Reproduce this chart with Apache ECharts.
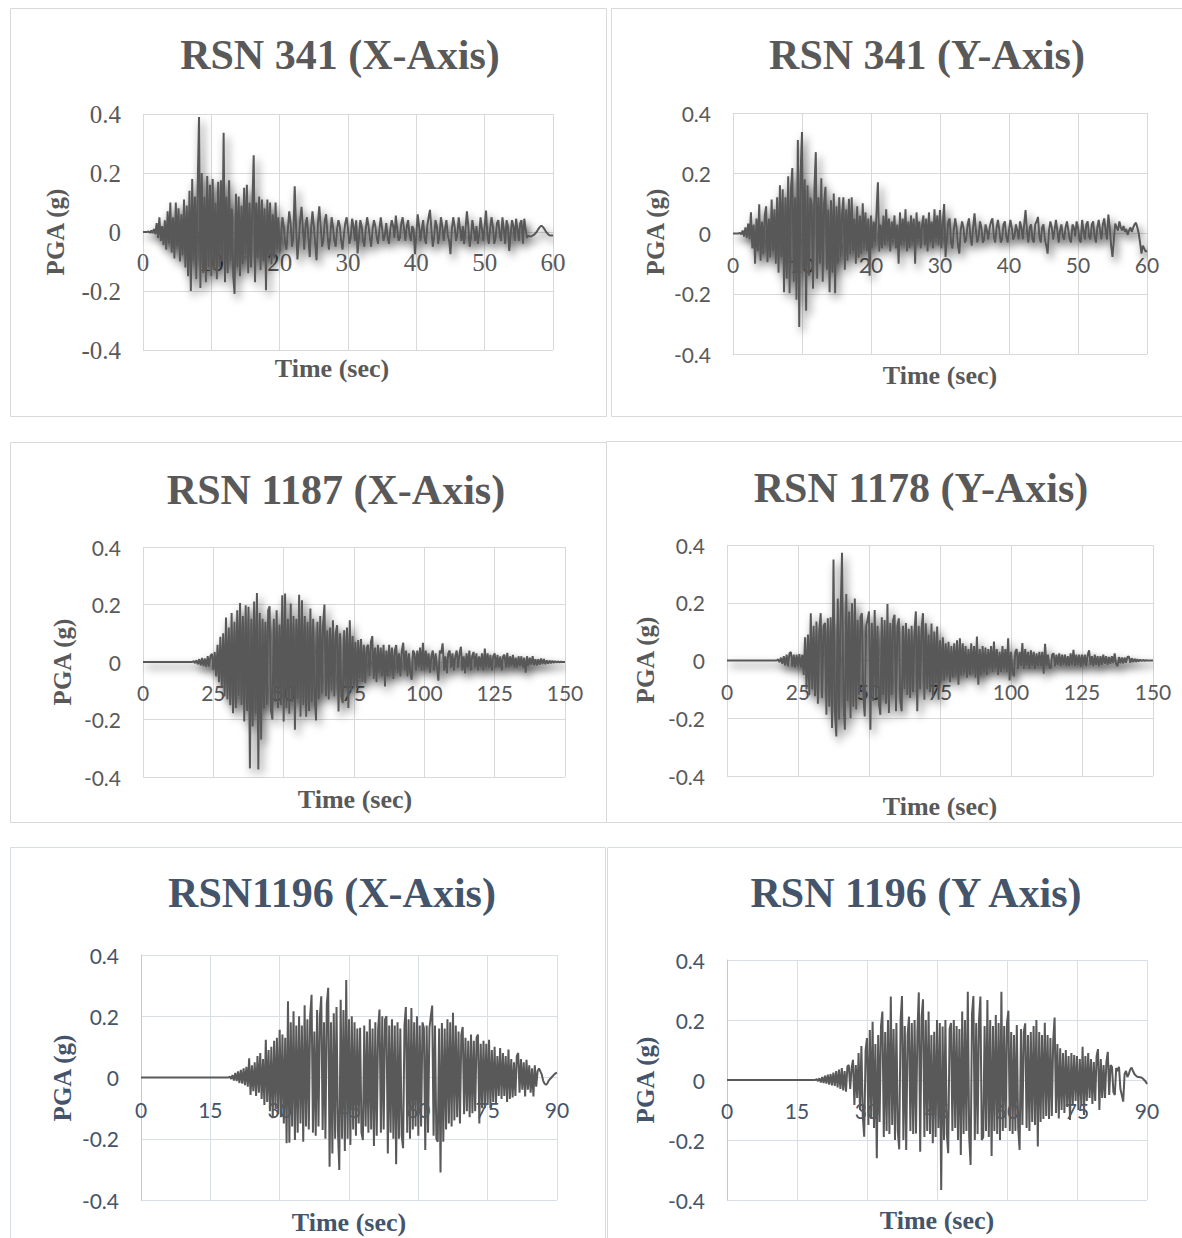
<!DOCTYPE html>
<html>
<head>
<meta charset="utf-8">
<title>Ground motion records</title>
<script src="https://cdn.jsdelivr.net/npm/echarts@6/dist/echarts.min.js"></script>
<style>
  html, body { margin: 0; padding: 0; background: #ffffff; }
  #chart { width: 1182px; height: 1238px; }
</style>
</head>
<body>
<div id="chart"></div>
<script>
// Acceleration histories (g), one value every DT seconds from t = 0
const DT_341 = 0.2;
const DT_1187 = 0.5;
const DT_1178 = 0.5;
const DT_1196 = 0.3;

const rsn341X = [
  0,0,0,0,.002,-.003,.005,-.004,.01,-.008,
  .03,-.02,.05,-.03,.02,-.045,.04,-.06,.07,-.04,
  .1,-.07,.05,-.09,.1,-.05,.08,-.1,.06,-.08,
  .11,-.12,.09,-.15,.14,-.2,.18,-.1,.12,-.16,
  .15,.39,-.19,.2,-.14,.12,-.17,.19,-.12,.16,
  -.15,.18,-.13,.1,-.16,.17,-.12,.175,-.1,.336,
  -.17,.12,-.14,.175,-.1,.08,-.15,-.21,.13,-.12,
  .12,-.15,.09,-.11,.15,-.08,.16,-.14,.1,-.12,
  .09,.26,-.17,.1,-.09,.12,-.13,.11,-.1,.08,
  -.197,.11,-.08,.1,-.11,.06,-.09,.1,-.06,.05,
  -.07,-.02,.05,.02,-.04,-.06,.01,.07,.03,-.05,
  -.02,.155,.02,-.093,-.03,.04,.085,.01,-.06,.03,
  .05,-.02,-.085,.01,.07,.02,-.04,-.096,.03,.087,
  .02,-.05,-.03,.04,.06,-.01,-.06,-.02,.05,.02,
  -.03,-.05,.01,.04,.02,-.03,-.06,-.01,.03,.05,
  .01,-.04,-.02,.045,.02,-.03,.04,-.073,-.02,.04,
  .02,-.03,-.05,.01,.05,.02,-.02,-.05,.01,.04,
  .02,-.02,-.04,.01,.05,.01,-.03,-.01,.03,-.02,
  -.04,.01,.04,.02,-.02,.056,.01,-.03,-.02,.03,
  .05,.01,-.03,.02,.04,-.01,-.03,.02,.01,-.075,
  -.01,.06,.02,-.03,.01,.04,-.02,-.04,.02,.05,
  .075,.01,-.05,-.02,.04,.02,-.04,-.01,.05,.02,
  -.03,.01,.04,-.01,-.03,-.075,.01,.05,.02,-.03,
  -.01,.05,.01,-.03,.02,-.04,.01,.07,.02,-.05,
  -.02,.04,.01,-.03,.02,-.04,-.01,.05,.01,-.03,
  .02,.073,-.01,-.04,.01,.05,.02,-.04,-.02,.03,
  .04,-.01,-.03,.05,.01,-.04,.04,.02,-.064,-.01,
  .04,.02,-.03,.045,.01,-.03,.03,.04,-.04,.045,
  .01,-.02,-.012,-.015,-.015,-.012,-.01,-.005,0,.008,
  .015,.02,.02,.015,.008,0,-.005,-.01,-.012,-.012,-.012
];

const rsn341Y = [
  0,0,0,0,0,.002,-.003,.01,-.01,.02,
  -.015,.033,-.02,.07,-.05,.03,-.1,.05,-.06,.097,
  -.09,.04,-.07,.06,.09,-.095,.05,-.08,.113,-.06,
  .08,-.1,.12,-.13,.16,-.08,.147,-.195,.12,-.15,
  .19,-.198,.15,.217,-.16,.12,-.22,.31,-.31,.2,
  .337,-.12,.18,-.256,.16,-.14,.12,.1,-.183,.15,
  .27,-.15,.12,-.1,.183,-.16,.1,.155,-.12,.08,
  -.195,.11,-.13,.133,-.198,.09,-.1,.12,-.08,.06,
  .12,-.12,.08,-.09,.115,-.07,.12,-.06,.05,-.1,
  .09,-.08,.06,-.07,.1,-.04,.07,-.06,.05,-.14,
  .06,-.05,.04,-.03,.07,.17,-.06,.03,-.05,.06,
  -.04,.08,-.03,.05,-.06,.04,-.02,.06,-.05,.03,
  -.1,.07,-.04,.05,-.03,.08,-.06,.04,-.05,.06,
  -.03,.05,-.1,.07,-.02,.04,-.05,.03,.06,-.04,
  .05,-.06,.07,-.03,.04,-.05,.08,-.02,.06,-.04,
  .078,-.05,.03,.098,-.078,-.02,.04,.05,-.03,-.05,
  .01,.05,.02,-.04,-.067,.01,.04,.02,-.03,-.02,
  .03,.05,-.01,-.04,.02,.067,.01,-.03,-.01,.04,
  .02,-.03,-.02,.03,.01,-.02,.02,.04,.05,-.01,
  -.03,.02,.045,.01,-.03,-.02,.03,.04,-.01,-.03,
  .01,.045,.02,-.02,-.01,.03,.01,-.02,.04,.02,
  -.02,.03,.078,.01,-.03,.02,.03,-.02,-.03,.03,
  .04,.055,-.01,-.03,.02,.03,-.02,-.04,-.067,.01,
  .04,.02,-.02,.01,.045,.01,-.03,.01,.03,-.01,
  -.02,.02,.04,.01,-.02,-.03,.03,.02,-.01,.04,
  .02,-.02,-.03,.045,.01,-.02,.03,.04,-.01,-.02,
  .03,.04,-.01,-.03,.02,.045,.01,-.02,.03,.05,
  .01,-.02,.063,.02,-.04,-.078,-.02,.033,.02,.01,
  .04,.02,.01,.025,.005,.015,-.005,.01,.02,.005,
  .02,.03,.036,.02,0,-.03,-.067,-.04,-.05,-.06,-.057
];

const rsn1187X = [
  0,0,0,0,0,0,0,0,0,0,
  0,0,0,0,0,0,0,0,0,0,
  0,0,0,0,0,0,0,0,0,0,
  0,0,0,0,0,0,.003,-.004,.006,-.008,
  .01,-.012,.014,-.015,.012,-.018,.02,-.016,.022,.028,
  -.028,.035,-.05,.06,-.07,.088,-.09,.1,-.12,.155,
  -.13,.12,-.15,.17,-.178,.14,-.16,.18,-.12,.205,
  -.15,.16,-.207,.197,-.17,.192,-.37,.15,-.224,.21,
  -.18,.24,-.374,.17,-.27,.15,-.16,.14,-.15,.18,
  .194,-.17,-.2,.15,-.14,.18,-.16,.13,-.15,.232,
  -.207,.238,-.16,.15,-.18,.203,-.14,.16,-.236,.15,
  -.13,.234,-.19,.215,-.15,.16,-.19,.14,-.17,.186,
  -.14,.15,-.12,-.203,.14,-.13,.16,-.11,.13,.2,
  -.12,.11,-.13,.12,-.1,.145,-.12,.1,.128,-.172,
  .1,-.12,-.143,.11,-.09,.12,-.16,.145,-.1,.09,
  -.08,.07,-.09,.076,-.06,.08,-.07,.06,-.074,.05,
  .06,-.05,.07,.09,-.06,.05,-.07,.06,-.04,.05,
  -.05,.06,-.085,.04,-.05,.06,-.04,.05,-.06,.04,
  .059,-.04,.03,-.05,.04,.067,-.03,.04,-.05,.03,
  -.04,-.062,.04,.03,-.03,.04,-.02,.05,-.03,.067,
  -.03,.04,-.02,.03,-.037,.02,.04,-.03,.03,-.02,
  -.065,.04,.03,.065,-.03,.02,-.04,.03,.04,-.02,
  .03,-.03,.02,.04,-.02,.03,.053,-.03,.02,-.04,
  .03,-.02,.04,-.03,.02,.035,-.02,.03,-.03,.02,
  -.02,.03,-.03,.047,-.02,.03,-.02,.025,-.03,.02,
  .03,-.02,.025,-.02,.02,-.03,.02,.025,-.02,.032,
  -.02,.02,-.015,.025,-.02,.015,-.02,.02,-.015,.02,
  -.02,.015,-.037,.02,-.015,.015,-.01,.02,-.012,.01,
  -.012,.01,-.01,.012,-.008,.01,-.008,.006,-.006,.005,
  -.004,.004,-.003,.003,-.002,.002,-.001,.001,0,0,0
];

const rsn1178Y = [
  0,0,0,0,0,0,0,0,0,0,
  0,0,0,0,0,0,0,0,0,0,
  0,0,0,0,0,0,0,0,0,0,
  0,0,0,0,0,0,.004,-.006,.01,-.012,
  .015,-.018,.02,-.02,.025,.029,-.022,.02,-.025,.02,
  -.02,.022,-.025,.02,-.05,.08,-.1,.09,-.12,.164,
  -.1,.12,-.124,.135,-.15,.11,.164,-.13,.12,.13,
  -.188,.146,-.16,.15,-.234,.35,-.18,-.263,.215,-.205,
  .16,.373,-.15,-.24,.23,-.14,.17,-.2,.198,-.16,
  .215,-.17,.14,-.12,.15,.164,-.13,-.194,.12,.14,
  .17,-.24,.13,-.14,.175,-.13,.12,-.15,-.188,.15,
  -.12,.14,-.15,.196,-.182,.13,-.12,.14,.158,-.176,
  .12,.146,-.14,-.176,.12,-.1,.13,-.12,.11,-.13,
  .12,-.11,.1,.17,-.176,.12,-.1,.11,.164,-.136,
  .129,-.1,.09,-.11,.128,-.13,.1,-.08,.118,-.136,
  .07,-.06,.08,-.07,.06,-.05,.065,-.075,.05,-.06,
  .06,-.05,.07,-.084,.077,-.05,.06,-.04,.05,-.06,
  .04,-.05,.06,-.04,.05,-.06,.083,-.084,.04,-.05,
  .05,-.04,.045,-.05,.04,-.03,.05,-.04,.066,-.03,
  .04,-.05,.03,-.04,.05,-.03,.04,-.04,.077,-.069,
  .03,-.04,-.055,.03,.04,-.03,.03,-.02,.06,-.03,
  .04,-.02,.03,-.03,.035,-.02,.03,-.03,.025,-.02,
  .03,-.02,.03,-.046,.058,-.02,.02,-.025,-.027,.02,
  .025,-.02,.02,-.015,.025,-.02,.02,-.015,.02,-.02,
  .015,-.02,.025,-.015,.037,-.02,.02,-.015,.02,-.023,
  .02,-.015,.02,-.02,.02,.035,-.015,.015,-.02,.02,
  -.015,.015,-.02,.015,-.015,.02,-.012,.015,-.015,.012,
  -.012,.015,-.01,.025,-.012,-.02,.012,-.01,.01,-.01,
  .01,-.008,.012,.014,-.008,.008,-.006,.006,-.005,.004,
  -.003,.003,-.002,.002,-.001,.001,0,0,0,0,0
];

const rsn1196X = [
  0,0,0,0,0,0,0,0,0,0,
  0,0,0,0,0,0,0,0,0,0,
  0,0,0,0,0,0,0,0,0,0,
  0,0,0,0,0,0,0,0,0,0,
  0,0,0,0,0,0,0,0,0,0,
  0,0,0,0,0,0,0,0,0,0,
  0,0,0,0,.003,-.005,.008,-.01,.015,-.012,
  .02,-.018,.025,-.02,.03,-.025,.035,-.03,.063,-.057,
  .04,-.045,.05,-.06,.07,-.05,.08,-.07,.06,-.09,
  .123,-.08,.09,-.11,.1,-.133,.12,-.1,.13,-.12,
  .156,-.13,.14,-.15,.13,-.215,.249,-.213,.18,-.16,
  .216,-.204,.17,-.18,.2,-.15,.17,-.21,.236,-.16,
  .19,-.17,.2,.27,-.18,.15,-.19,.22,-.16,.2,
  .265,-.171,.18,-.2,.24,.293,-.291,.18,-.248,.21,
  -.2,.23,-.17,-.302,.254,-.2,.22,-.24,.318,-.2,
  .19,-.22,.2,-.17,.18,-.19,.16,-.15,.162,-.18,
  -.204,.17,-.16,.15,-.18,.19,-.17,.16,-.224,.18,
  -.19,.16,.222,-.18,.2,-.17,.19,.2,-.248,.17,
  -.18,.19,-.2,.17,-.283,.18,-.2,.16,-.19,-.231,
  .17,.23,-.18,.19,-.2,.227,-.17,.18,-.16,.2,
  -.19,.17,-.16,.18,.162,-.237,.17,-.18,.16,.2,
  .235,-.19,.17,-.2,-.21,.16,-.31,.178,-.21,.16,
  -.17,.19,-.15,.18,-.16,.211,-.14,.17,-.13,.15,
  -.15,.14,.165,-.12,.13,-.11,.12,-.13,.14,-.117,
  .12,-.11,.13,.14,-.15,.11,-.1,.12,-.1,.11,
  -.09,.123,-.1,.09,-.08,.1,-.084,.07,-.06,.096,
  -.07,.08,-.06,.07,-.08,.091,-.07,.06,-.065,.05,
  -.06,.07,.08,-.05,.06,-.04,.05,-.062,.058,-.04,
  .04,-.05,.03,-.062,.04,-.03,.02,.03,.02,.01,
  -.01,-.02,-.024,-.02,-.01,-.005,0,.005,.01,.014,.016
];

const rsn1196Y = [
  0,0,0,0,0,0,0,0,0,0,
  0,0,0,0,0,0,0,0,0,0,
  0,0,0,0,0,0,0,0,0,0,
  0,0,0,0,0,0,0,0,0,0,
  0,0,0,0,0,0,0,0,0,0,
  0,0,0,0,0,0,0,0,0,0,
  0,0,0,0,.003,-.004,.006,-.008,.01,-.01,
  .014,-.012,.018,-.015,.02,-.018,.025,-.02,.03,-.025,
  .035,-.03,.04,-.035,.03,-.039,.045,.05,-.03,.04,
  .067,-.083,.05,-.06,.09,-.1,.113,-.12,-.189,.1,
  .14,-.15,.167,-.13,.194,-.16,.12,-.261,.15,-.14,
  .18,.228,-.19,.16,-.17,.2,-.18,.278,-.15,.17,
  -.2,.19,-.17,-.231,.2,.28,-.2,.18,-.233,.15,
  .211,-.17,.19,-.18,.2,-.178,.16,.292,-.239,.21,
  .269,-.19,.2,-.17,.228,-.18,.15,-.211,.161,-.19,
  .2,-.16,.19,-.367,.178,-.2,.2,-.18,-.244,.17,
  .19,-.17,.2,-.16,.18,-.2,.17,-.25,.228,-.18,
  .2,-.17,.294,-.19,-.283,.22,.28,-.2,.19,-.18,
  .2,.278,-.2,-.19,.18,-.17,.267,-.19,.2,-.253,
  .18,-.17,.217,-.18,.19,-.2,.294,-.17,.18,-.16,
  .19,.231,-.17,.16,-.18,.15,-.17,.183,-.16,-.233,
  .17,-.15,.16,.189,-.16,.15,-.17,.16,-.14,.18,
  -.15,.2,-.222,.16,-.14,.15,-.13,.191,-.12,.15,
  -.13,.14,-.12,.13,.208,-.11,.12,-.128,.106,-.1,
  .09,-.11,.1,-.09,.08,-.133,.09,-.08,.083,-.07,
  .08,-.1,.07,-.08,.111,-.117,.08,-.07,.09,-.06,
  .07,-.08,.06,-.07,.08,.103,-.1,.07,-.06,.05,
  -.06,.06,.094,-.05,.05,.044,-.04,-.05,.04,.03,
  .044,-.03,-.05,-.072,.02,.03,.01,.02,.035,.041,
  .03,.02,.015,.011,.01,.009,.008,.005,0,-.005,-.013
];

// Axis ticks
const pgaTicks = [-0.4, -0.2, 0, 0.2, 0.4];
const time341Ticks = [0, 10, 20, 30, 40, 50, 60];
const time1187Ticks = [0, 25, 50, 75, 100, 125, 150];
const time1196Ticks = [0, 15, 30, 45, 60, 75, 90];

const chartTitles = [
  'RSN 341 (X-Axis)', 'RSN 341 (Y-Axis)',
  'RSN 1187 (X-Axis)', 'RSN 1178 (Y-Axis)',
  'RSN1196 (X-Axis)', 'RSN 1196 (Y Axis)'
];
const yName = 'PGA (g)';
const xName = 'Time (sec)';

// Two looks: grey charts with a soft line shadow, and slate-blue charts
const greyLook = {
  text: '#595959', grid: '#d9d9d9', frame: '#d9d9d9', yLine: null, shadow: true
};
const slateLook = {
  text: '#44546a', grid: '#d9dfe8', frame: '#d6dce5', yLine: '#bfc9d9', shadow: false
};

const SERIF = '"Liberation Serif", "Times New Roman", serif';
const SANS = 'Lato, "Noto Sans", sans-serif';

const panels = [
  { values: rsn341X, dt: DT_341, ticks: time341Ticks, look: greyLook,
    grid: { left: 143, top: 114, width: 410, height: 236 },
    tickFont: SERIF, tickSize: 25, xMargin: 18,
    titleAt: [340, 55], yNameAt: [55, 232], xNameAt: [332, 368] },
  { values: rsn341Y, dt: DT_341, ticks: time341Ticks, look: greyLook,
    grid: { left: 733, top: 113, width: 414, height: 241 },
    tickFont: SANS, tickSize: 21, xMargin: 20,
    titleAt: [927, 55], yNameAt: [655, 232], xNameAt: [940, 375] },
  { values: rsn1187X, dt: DT_1187, ticks: time1187Ticks, look: greyLook,
    grid: { left: 143, top: 547, width: 422, height: 230 },
    tickFont: SANS, tickSize: 21, xMargin: 20,
    titleAt: [336, 490], yNameAt: [62, 662], xNameAt: [355, 799] },
  { values: rsn1178Y, dt: DT_1178, ticks: time1187Ticks, look: greyLook,
    grid: { left: 727, top: 545, width: 426, height: 231 },
    tickFont: SANS, tickSize: 21, xMargin: 20,
    titleAt: [921, 488], yNameAt: [645, 660], xNameAt: [940, 806] },
  { values: rsn1196X, dt: DT_1196, ticks: time1196Ticks, look: slateLook,
    grid: { left: 141, top: 955, width: 416, height: 245 },
    tickFont: SANS, tickSize: 21, xMargin: 21,
    titleAt: [332, 893], yNameAt: [62, 1078], xNameAt: [349, 1222] },
  { values: rsn1196Y, dt: DT_1196, ticks: time1196Ticks, look: slateLook,
    grid: { left: 727, top: 960, width: 420, height: 240 },
    tickFont: SANS, tickSize: 21, xMargin: 20,
    titleAt: [916, 893], yNameAt: [645, 1080], xNameAt: [937, 1220] }
];

// Chart-area frames around each record
const frames = [
  { x: 10.5, y: 8.5, w: 596, h: 408, look: greyLook },
  { x: 611.5, y: 8.5, w: 580, h: 408, look: greyLook },
  { x: 10.5, y: 442.5, w: 596, h: 380, look: greyLook },
  { x: 606.5, y: 441.5, w: 580, h: 381, look: greyLook },
  { x: 10.5, y: 847.5, w: 595, h: 420, look: slateLook },
  { x: 607.5, y: 847.5, w: 580, h: 420, look: slateLook }
];

const toPairs = (vals, dt) => vals.map((v, i) => [Math.round(i * dt * 100) / 100, v]);

const grids = [], xAxes = [], yAxes = [], series = [], graphics = [];
const n = panels.length;

frames.forEach(f => {
  graphics.push({
    type: 'rect', silent: true, z: -10,
    shape: { x: f.x, y: f.y, width: f.w, height: f.h },
    style: { fill: 'none', stroke: f.look.frame, lineWidth: 1 }
  });
});

// Plot grids (0..n-1): gridlines, PGA labels and the record itself
panels.forEach((p, k) => {
  const L = p.look;
  grids.push(Object.assign({ containLabel: false, outerBoundsMode: 'none' }, p.grid));

  xAxes.push({
    gridIndex: k, type: 'value',
    min: p.ticks[0], max: p.ticks[p.ticks.length - 1], interval: p.ticks[1] - p.ticks[0],
    axisLine: { show: false },
    axisTick: { show: false },
    axisLabel: { show: false },
    splitLine: { show: true, lineStyle: { color: L.grid, width: 1 } }
  });

  yAxes.push({
    gridIndex: k, type: 'value',
    min: pgaTicks[0], max: pgaTicks[pgaTicks.length - 1], interval: pgaTicks[1] - pgaTicks[0],
    axisLine: { show: !!L.yLine, lineStyle: { color: L.yLine || L.grid, width: 1 } },
    axisTick: { show: false },
    axisLabel: { color: L.text, fontFamily: p.tickFont, fontSize: p.tickSize, margin: 22 },
    splitLine: { show: true, lineStyle: { color: L.grid, width: 1 } }
  });

  const lineStyle = { color: '#595959', width: 2 };
  if (L.shadow) {
    Object.assign(lineStyle, {
      shadowColor: 'rgba(0,0,0,0.7)', shadowBlur: 8, shadowOffsetX: 3, shadowOffsetY: 5
    });
  }
  series.push({
    type: 'line', xAxisIndex: k, yAxisIndex: k,
    data: toPairs(p.values, p.dt),
    showSymbol: false, symbol: 'none',
    lineStyle: lineStyle, z: 5, silent: true, animation: false
  });

  graphics.push({
    type: 'text', x: p.titleAt[0], y: p.titleAt[1], silent: true,
    style: { text: chartTitles[k], textAlign: 'center', textVerticalAlign: 'middle',
             font: 'bold 42px ' + SERIF, fill: L.text }
  });
  graphics.push({
    type: 'text', x: p.yNameAt[0], y: p.yNameAt[1], rotation: Math.PI / 2, silent: true,
    style: { text: yName, textAlign: 'center', textVerticalAlign: 'middle',
             font: 'bold 25px ' + SERIF, fill: L.text }
  });
  graphics.push({
    type: 'text', x: p.xNameAt[0], y: p.xNameAt[1], silent: true,
    style: { text: xName, textAlign: 'center', textVerticalAlign: 'middle',
             font: 'bold 26px ' + SERIF, fill: L.text }
  });
});

// Time-axis grids (n..2n-1): upper half of each plot, so the time labels
// sit just under the zero line, where the horizontal axis crosses
panels.forEach((p, k) => {
  const L = p.look;
  grids.push({
    left: p.grid.left, top: p.grid.top, width: p.grid.width, height: p.grid.height / 2,
    containLabel: false, outerBoundsMode: 'none'
  });
  xAxes.push({
    gridIndex: n + k, type: 'value', position: 'bottom',
    min: p.ticks[0], max: p.ticks[p.ticks.length - 1], interval: p.ticks[1] - p.ticks[0],
    axisLine: { show: false },
    axisTick: { show: false },
    splitLine: { show: false },
    axisLabel: { color: L.text, fontFamily: p.tickFont, fontSize: p.tickSize, margin: p.xMargin,
                 showMinLabel: true, showMaxLabel: true, hideOverlap: false }
  });
  yAxes.push({
    gridIndex: n + k, type: 'value', min: 0, max: pgaTicks[pgaTicks.length - 1], show: false
  });
});

const chart = echarts.init(document.getElementById('chart'), null, { renderer: 'svg' });
chart.setOption({
  backgroundColor: '#ffffff',
  animation: false,
  grid: grids,
  xAxis: xAxes,
  yAxis: yAxes,
  series: series,
  graphic: graphics
});
</script>
</body>
</html>
